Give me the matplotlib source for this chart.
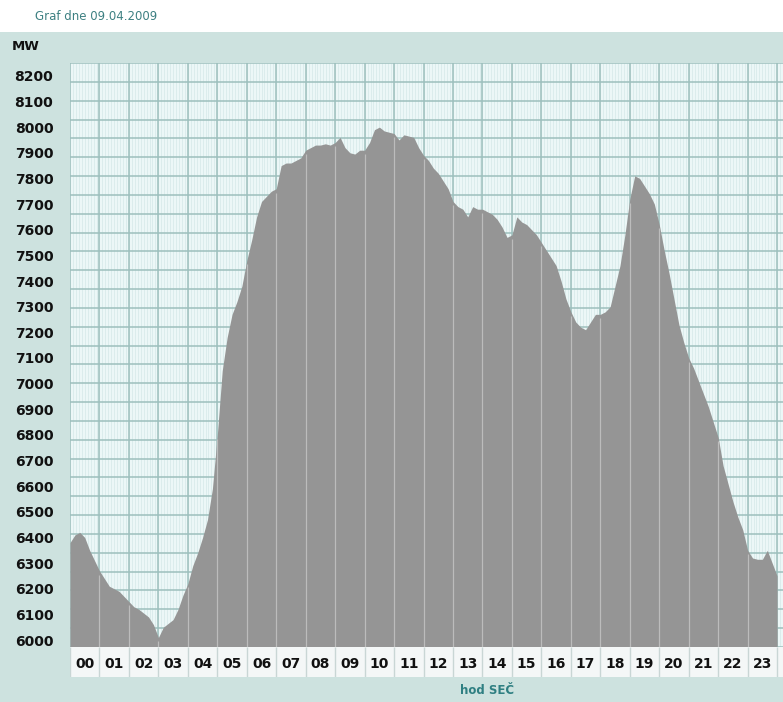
import numpy as np
import matplotlib.pyplot as plt

# load in MW, one value every 10 minutes (6 per hour)
load = [
    6380, 6410, 6420, 6400, 6350, 6310,   # 00
    6270, 6240, 6210, 6200, 6190, 6170,   # 01
    6150, 6130, 6120, 6105, 6090, 6060,   # 02
    6010, 6050, 6065, 6080, 6120, 6175,   # 03
    6220, 6290, 6340, 6400, 6470, 6590,   # 04
    6800, 7050, 7180, 7270, 7320, 7380,   # 05
    7480, 7560, 7650, 7710, 7730, 7750,   # 06
    7760, 7850, 7860, 7860, 7870, 7880,   # 07
    7910, 7920, 7930, 7930, 7935, 7930,   # 08
    7940, 7960, 7920, 7900, 7895, 7910,   # 09
    7910, 7940, 7990, 8000, 7985, 7980,   # 10
    7975, 7950, 7970, 7965, 7960, 7920,   # 11
    7890, 7870, 7840, 7820, 7790, 7760,   # 12
    7710, 7690, 7680, 7650, 7690, 7680,   # 13
    7680, 7670, 7660, 7640, 7610, 7570,   # 14
    7580, 7650, 7630, 7620, 7600, 7580,   # 15
    7550, 7520, 7490, 7460, 7400, 7330,   # 16
    7280, 7240, 7220, 7210, 7240, 7270,   # 17
    7270, 7280, 7300, 7380, 7460, 7580,   # 18
    7720, 7810, 7800, 7770, 7740, 7700,   # 19
    7620, 7520, 7430, 7330, 7230, 7160,   # 20
    7100, 7060, 7010, 6960, 6910, 6850,   # 21
    6790, 6680, 6610, 6540, 6480, 6430,   # 22
    6350, 6320, 6315, 6315, 6350, 6300,   # 23
    6250,
]
hour_labels = ["%02d" % h for h in range(24)]
y_ticks = list(range(6000, 8201, 100))

load = np.array(load)
t = np.arange(len(load)) / 6.0

W, H = 783, 702
fig = plt.figure(figsize=(W / 100, H / 100), dpi=100)
fig.patch.set_facecolor('#cde2df')

# white strip with the title on top
fig.patches.append(plt.Rectangle((0, 1 - 32 / H), 1, 32 / H, transform=fig.transFigure,
                                 facecolor='white', edgecolor='none', zorder=0))
fig.text(35 / W, 1 - 16 / H, "Graf dne 09.04.2009", color='#3d8082', fontsize=8.5,
         va='center', ha='left')
fig.text(12 / W, 1 - 47 / H, "MW", color='#111111', fontsize=9.5, fontweight='bold',
         va='center', ha='left')

# main plot
ymin, ymax = 5973, 8250
xmax = 24.2
ax = fig.add_axes([70 / W, (H - 647) / H, (W - 70) / W, (647 - 63) / H])
ax.set_facecolor('#ecf7f7')
ax.set_xlim(0, xmax)
ax.set_ylim(ymin, ymax)

# fine vertical grid, hourly grid, horizontal grid
ax.vlines(np.arange(0, xmax, 0.1), ymin, ymax, color='#d8eaea', lw=0.6, zorder=0)
ax.vlines(np.arange(0, 25), ymin, ymax, color='#9dbfbd', lw=1.1, zorder=1)
ax.hlines(np.linspace(0, 1, 32), 0, 1, transform=ax.transAxes, color='#9dbfbd', lw=1.1, zorder=1)

ax.fill_between(t, ymin, load, color='#959595', lw=0, zorder=2)
# light hour lines running through the filled area
hrs = np.arange(0, 24)
ax.vlines(hrs[1:], ymin, load[hrs[1:] * 6] - 15, color='#bcbcbc', lw=0.9, zorder=3)

ax.set_xticks([])
ax.set_yticks(y_ticks)
ax.set_yticklabels([str(v) for v in y_ticks], fontsize=10, fontweight='bold', color='#111111')
ax.tick_params(axis='y', length=0, pad=12)
for s in ax.spines.values():
    s.set_visible(False)

# row of hour labels under the plot
axl = fig.add_axes([70 / W, (H - 677) / H, (W - 70) / W, 30 / H])
axl.set_facecolor('#f4f7f7')
axl.set_xlim(0, xmax)
axl.set_ylim(0, 1)
axl.vlines(np.arange(0, 25), 0, 1, color='#c9d6d5', lw=1)
for h, lab in zip(hrs, hour_labels):
    axl.text(h + 0.5, 0.45, lab, ha='center', va='center', fontsize=10,
             fontweight='bold', color='#111111')
axl.set_xticks([])
axl.set_yticks([])
for s in axl.spines.values():
    s.set_visible(False)

fig.text(487 / W, 1 - 690 / H, "hod SEČ", color='#2f7f82', fontsize=8.5, fontweight='bold',
         ha='center', va='center')

fig.savefig('out.png', dpi=100, facecolor=fig.get_facecolor())
